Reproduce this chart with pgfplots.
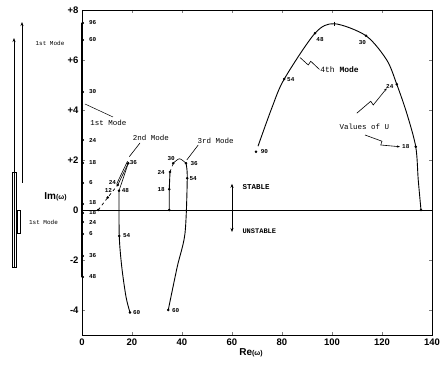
\documentclass[border=0pt]{standalone}
\usepackage{fontspec}
\setmainfont{Liberation Sans}
\newfontfamily\mono{Liberation Mono}
\usepackage{pgfplots}
\pgfplotsset{compat=1.18}
\usetikzlibrary{arrows.meta}
\newcommand{\lab}[1]{{\mono\bfseries\fontsize{6}{6.5}\selectfont #1}}
\newcommand{\ann}[1]{{\mono\fontsize{7.5}{8}\selectfont #1}}
\begin{document}
\begin{tikzpicture}
\path[use as bounding box] (-82pt,-35pt) rectangle (363pt,335pt);
\begin{axis}[scale only axis, width=350pt, height=325pt, at={(0pt,0pt)}, anchor=south west,
  xmin=0, xmax=140, ymin=-5, ymax=8,
  xtick={0,20,...,140}, ytick={-4,-2,0,2,4,6,8},
  yticklabels={-4,-2,0,+2,+4,+6,+8},
  /pgf/number format/assume math mode=true,
  tick label style={font=\bfseries\fontsize{9.5}{10}\selectfont},
  tick align=inside, major tick length=3pt,
  axis line style={line width=0.7pt},
  clip=false]
% real axis
\addplot[black, line width=0.5pt] coordinates {(0,0) (140,0)};
% 1st mode (on imaginary axis)
\addplot[black, line width=1.0pt] coordinates {(0,-2.68) (0,7.48)};
\addplot[only marks, mark=*, mark size=1.2pt, black] coordinates {
 (0.3,7.48) (0.3,6.8) (0.3,4.72) (0.3,2.8) (0.3,1.88) (0.3,1.08) (0.3,0.24) (0.3,-0.12) (0.3,-0.48) (0.3,-0.96) (0.3,-1.84) (0.3,-2.68)};
% 2nd mode
\addplot[black, line width=0.7pt, dashed] coordinates {(6.5,0) (10.3,0.5) (14.3,1.0)};
\addplot[black, line width=0.6pt] coordinates {(14.3,1.0) (18.5,1.87)};
\addplot[black, line width=0.6pt] coordinates {(18.5,1.87) (14.8,0.77)};
\addplot[black, line width=0.6pt] coordinates {(13.9,1.05) (18.2,1.95)};
\addplot[black, line width=0.9pt, smooth] coordinates {(14.8,0.77) (14.9,-1.04) (15.9,-2.27) (17.6,-3.47) (19.2,-4.1)};
\addplot[only marks, mark=*, mark size=1pt, black] coordinates {
 (6.5,0) (10.3,0.5) (14.3,1.0) (18.5,1.87) (14.8,0.77) (14.9,-1.04) (19.2,-4.1)};
% 3rd mode
\addplot[black, line width=0.9pt] coordinates {(34.9,0) (34.9,0.83) (35.2,1.52)};
\addplot[black, line width=0.6pt, dashed] coordinates {(35.2,1.52) (36.5,1.87)};
\addplot[black, line width=0.6pt, smooth] coordinates {(36.5,1.87) (39,2.05) (41.6,1.87)};
\addplot[black, line width=0.9pt, smooth] coordinates {(41.6,1.87) (42.1,1.27) (41.2,-0.93) (38.1,-2.27) (34.5,-4.0)};
\addplot[only marks, mark=*, mark size=1pt, black] coordinates {
 (34.9,0) (34.9,0.83) (35.2,1.52) (36.5,1.87) (41.6,1.87) (42.1,1.27) (34.5,-4.0)};
% 4th mode
\addplot[black, line width=0.9pt, smooth] coordinates {(70.4,2.55) (76.0,4.1) (80.9,5.24) (93.2,7.07) (101,7.45) (113.6,6.97) (121.9,6.0) (125.9,5.03) (129.9,3.87) (133.5,2.53) (134.5,1.2) (135.6,0)};
\addplot[only marks, mark=*, mark size=1pt, black] coordinates {
 (69.6,2.33) (80.9,5.24) (93.2,7.07) (113.6,6.97) (125.9,5.03) (133.5,2.53) (135.6,0)};
\addplot[only marks, mark=|, mark size=2pt, black] coordinates {(101,7.45)};
% point labels, 1st mode
\node[anchor=west] at (axis cs:1.4,7.48) {\lab{96}};
\node[anchor=west] at (axis cs:1.4,6.8) {\lab{60}};
\node[anchor=west] at (axis cs:1.4,4.72) {\lab{30}};
\node[anchor=west] at (axis cs:1.4,2.8) {\lab{24}};
\node[anchor=west] at (axis cs:1.4,1.88) {\lab{18}};
\node[anchor=west] at (axis cs:1.4,1.08) {\lab{6}};
\node[anchor=west] at (axis cs:1.4,0.3) {\lab{18}};
\node[anchor=west] at (axis cs:1.4,-0.12) {\lab{18}};
\node[anchor=west] at (axis cs:1.4,-0.48) {\lab{24}};
\node[anchor=west] at (axis cs:1.4,-0.96) {\lab{6}};
\node[anchor=west] at (axis cs:1.4,-1.84) {\lab{36}};
\node[anchor=west] at (axis cs:1.4,-2.68) {\lab{48}};
% 2nd mode labels
\node at (axis cs:10.6,0.77) {\lab{12}};
\node at (axis cs:12.2,1.11) {\lab{24}};
\node at (axis cs:17.4,0.77) {\lab{48}};
\node at (axis cs:20.6,1.89) {\lab{36}};
\node at (axis cs:17.9,-1.04) {\lab{54}};
\node at (axis cs:21.9,-4.11) {\lab{60}};
% 3rd mode labels
\node at (axis cs:35.7,2.04) {\lab{30}};
\node at (axis cs:31.7,1.49) {\lab{24}};
\node at (axis cs:31.7,0.8) {\lab{18}};
\node at (axis cs:44.9,1.87) {\lab{36}};
\node at (axis cs:44.5,1.24) {\lab{54}};
\node at (axis cs:37.5,-4.03) {\lab{60}};
% 4th mode labels
\node at (axis cs:73,2.33) {\lab{90}};
\node at (axis cs:83.5,5.23) {\lab{54}};
\node at (axis cs:95.2,6.8) {\lab{48}};
\node at (axis cs:112.2,6.69) {\lab{30}};
\node at (axis cs:123.1,4.93) {\lab{24}};
\node at (axis cs:129.5,2.53) {\lab{18}};
% mode annotations
\draw[line width=0.5pt] (axis cs:1.2,4.24) -- (axis cs:12.4,3.72);
\node at (axis cs:10.6,3.5) {\ann{1st Mode}};
\draw[line width=0.6pt] (axis cs:23.2,2.68) -- (axis cs:18.9,2.13);
\node at (axis cs:27.6,2.88) {\ann{2nd Mode}};
\draw[line width=0.6pt] (axis cs:46.5,2.6) -- (axis cs:41.9,2.0);
\node at (axis cs:53.5,2.75) {\ann{3rd Mode}};
\draw[line width=0.6pt] (axis cs:87.2,6.1) -- (axis cs:90.5,5.8) -- (axis cs:91.5,5.95) -- (axis cs:95,5.62);
\node at (axis cs:103,5.6) {{\mono\fontsize{8}{9}\selectfont 4th \bfseries Mode}};
\node at (axis cs:113,3.33) {\ann{Values of U}};
\draw[line width=0.6pt, -{Stealth[length=3pt]}] (axis cs:109.9,3.87) -- (axis cs:115.5,4.35) -- (axis cs:116.5,4.2) -- (axis cs:121.9,4.87);
\draw[line width=0.6pt, -{Stealth[length=3pt]}] (axis cs:113.2,3.0) -- (axis cs:120,2.75) -- (axis cs:119.5,2.6) -- (axis cs:127.2,2.53);
% stable / unstable
\draw[line width=0.9pt, {Stealth[length=4pt,width=3pt]}-{Stealth[length=4pt,width=3pt]}] (axis cs:60,-0.88) -- (axis cs:60,1.05);
\node[anchor=west] at (axis cs:62.8,0.91) {{\mono\bfseries\fontsize{7.5}{8}\selectfont STABLE}};
\node[anchor=west] at (axis cs:62.8,-0.84) {{\mono\bfseries\fontsize{7}{8}\selectfont UNSTABLE}};
% axis labels
\node at (axis cs:-10.6,0.52) {\bfseries\fontsize{10}{11}\selectfont Im{\fontsize{7}{8}\selectfont(ω)}};
\node at (axis cs:67.6,-5.72) {\bfseries\fontsize{10}{11}\selectfont Re{\fontsize{7}{8}\selectfont(ω)}};
% outer annotations
\draw[line width=0.7pt, -{Stealth[length=4pt]}] (axis cs:-27.2,-2.28) -- (axis cs:-27.2,6.88);
\draw[line width=0.5pt] (axis cs:-28.0,-2.28) rectangle (axis cs:-26.4,1.5);
\draw[line width=0.7pt, -{Stealth[length=4pt]}] (axis cs:-24,1.08) -- (axis cs:-24,7.52);
\draw[line width=0.5pt] (axis cs:-26,0) rectangle (axis cs:-24.6,-0.92);
\node at (axis cs:-12.8,6.68) {{\mono\fontsize{6}{7}\selectfont 1st Mode}};
\node at (axis cs:-15.4,-0.48) {{\mono\fontsize{6}{7}\selectfont 1st Mode}};
\end{axis}
\end{tikzpicture}
\end{document}
